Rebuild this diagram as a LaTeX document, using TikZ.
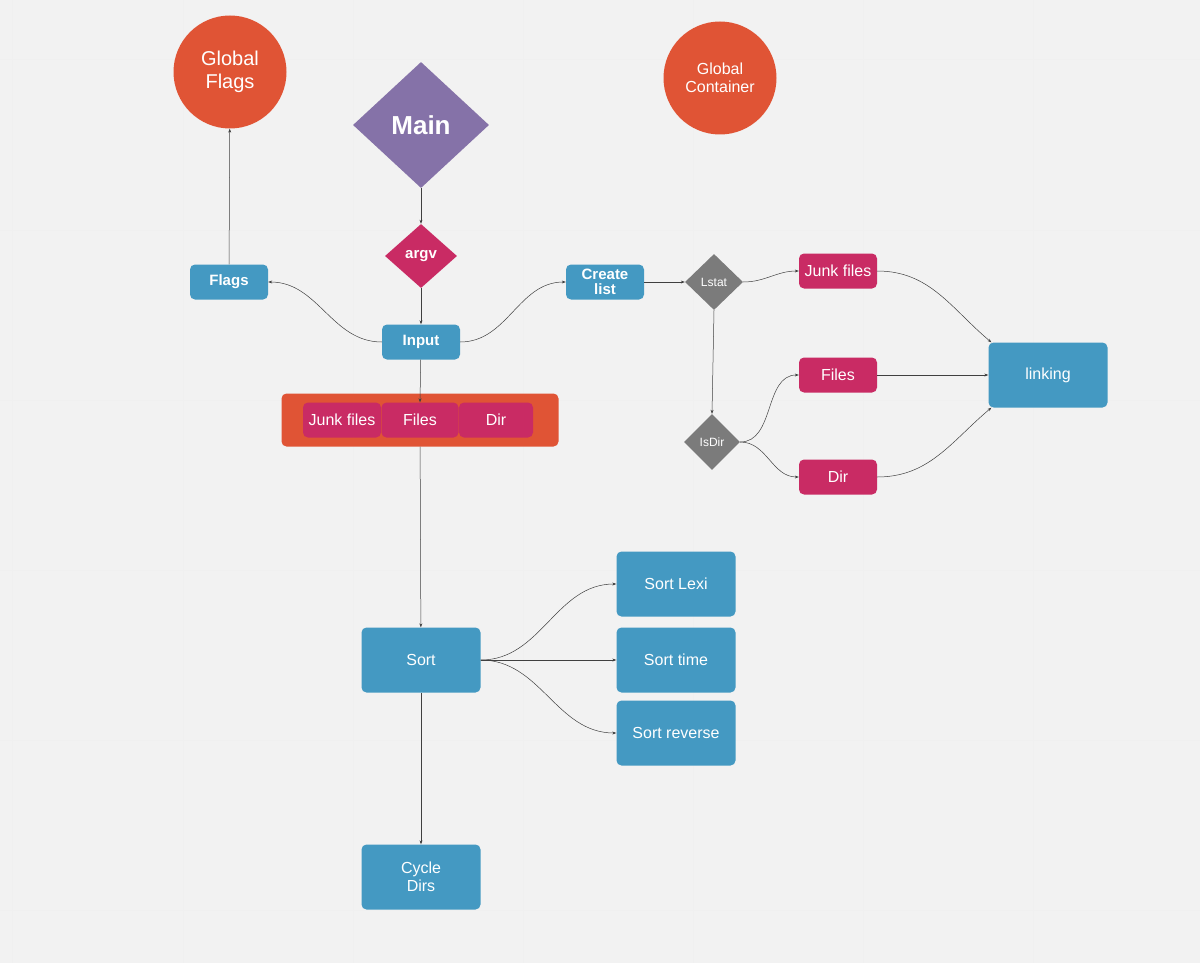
\documentclass[tikz,border=0pt]{standalone}
\usepackage{fontspec}
\setmainfont{Liberation Sans}
\usetikzlibrary{shapes.geometric,arrows.meta}
\definecolor{bluebox}{HTML}{4499C2}
\definecolor{pinkbox}{HTML}{C92B64}
\definecolor{orangebox}{HTML}{E05435}
\definecolor{purplebox}{HTML}{8572A8}
\definecolor{graybox}{HTML}{7B7B7B}
\definecolor{paper}{HTML}{F2F2F2}
\tikzset{
  box/.style={draw=none,rounded corners=5pt,text=white,align=center,inner sep=0pt},
  bluebx/.style={box,fill=bluebox,minimum width=119pt,minimum height=65pt,font=\fontsize{16}{18}\selectfont},
  smallbx/.style={box,fill=bluebox,minimum width=78pt,minimum height=35pt,font=\bfseries\fontsize{15}{16}\selectfont},
  pinkbx/.style={box,fill=pinkbox,minimum width=78pt,minimum height=35pt,font=\fontsize{16}{18}\selectfont},
  bigcircle/.style={circle,fill=orangebox,text=white,minimum size=113pt,align=center,inner sep=0pt},
  dia/.style={diamond,aspect=1.1,text=white,inner sep=0pt},
  link/.style={draw=black!75,line width=0.5pt,-{Stealth[length=4pt,width=3pt]}}
}
\begin{document}
\begin{tikzpicture}[x=1pt,y=-1pt]
  \fill[paper] (0,0) rectangle (1200,963);
  \useasboundingbox (0,0) rectangle (1200,963);
  % grid
  \foreach \gx in {12,183,353,523,693,863,1033} \draw[black!6,line width=1pt] (\gx,0) -- (\gx,963);
  \foreach \gy in {60,230,400,570,740,910} \draw[black!6,line width=1pt] (0,\gy) -- (1200,\gy);
  % top
  \node[bigcircle,font=\fontsize{20}{23}\selectfont] (gflags) at (230,72) {Global\\Flags};
  \node[bigcircle,font=\fontsize{16}{18}\selectfont] (gcont) at (720,78) {Global\\Container};
  \node[dia,fill=purplebox,minimum width=136pt,minimum height=126pt,font=\bfseries\fontsize{26}{28}\selectfont] (main) at (421,125) {Main};
  \node[dia,fill=pinkbox,minimum width=72pt,minimum height=64pt,font=\bfseries\fontsize{15}{16}\selectfont] (argv) at (421,256) {argv};
  \node[smallbx] (flags) at (229,282) {Flags};
  \node[smallbx] (input) at (421,342) {Input};
  \node[smallbx,font=\bfseries\fontsize{15}{15}\selectfont] (create) at (605,282) {Create\\list};
  % container of lists
  \node[box,fill=orangebox,minimum width=277pt,minimum height=53pt] (lists) at (420,420) {};
  \node[pinkbx] (ljunk) at (342,420) {Junk files};
  \node[pinkbx,minimum width=77pt] (lfiles) at (420,420) {Files};
  \node[pinkbx,minimum width=74pt] (ldir) at (496,420) {Dir};
  % right part
  \node[dia,fill=graybox,minimum width=58pt,minimum height=56pt,font=\fontsize{12}{13}\selectfont] (lstat) at (714,282) {Lstat};
  \node[dia,fill=graybox,minimum width=56pt,minimum height=56pt,font=\fontsize{12}{13}\selectfont] (isdir) at (712,442) {IsDir};
  \node[pinkbx] (junk) at (838,271) {Junk files};
  \node[pinkbx] (files) at (838,375) {Files};
  \node[pinkbx] (dir) at (838,477) {Dir};
  \node[bluebx] (linking) at (1048,375) {linking};
  % sort
  \node[bluebx] (sort) at (421,660) {Sort};
  \node[bluebx] (lexi) at (676,584) {Sort Lexi};
  \node[bluebx] (time) at (676,660) {Sort time};
  \node[bluebx] (rev) at (676,733) {Sort reverse};
  \node[bluebx] (cycle) at (421,877) {Cycle\\Dirs};
  % connectors
  \draw[link] (main) -- (argv);
  \draw[link] (argv) -- (input);
  \draw[link] (input.west) to[out=180,in=0] (flags.east);
  \draw[link] (flags) -- (gflags);
  \draw[link] (input.east) to[out=0,in=180] (create.west);
  \draw[link] (create) -- (lstat);
  \draw[link] (lstat.east) to[out=0,in=180] (junk.west);
  \draw[link] (lstat.south) -- (isdir.north);
  \draw[link] (isdir.east) to[out=0,in=180] (files.west);
  \draw[link] (isdir.east) to[out=0,in=180] (dir.west);
  \draw[link] (junk.east) to[out=0,in=140] (linking.150);
  \draw[link] (files) -- (linking);
  \draw[link] (dir.east) to[out=0,in=220] (linking.210);
  \draw[link] (input) -- (lfiles.north);
  \draw[link] (lists) -- (sort);
  \draw[link] (sort.east) to[out=0,in=180] (lexi.west);
  \draw[link] (sort) -- (time);
  \draw[link] (sort.east) to[out=0,in=180] (rev.west);
  \draw[link] (sort) -- (cycle);
\end{tikzpicture}
\end{document}
